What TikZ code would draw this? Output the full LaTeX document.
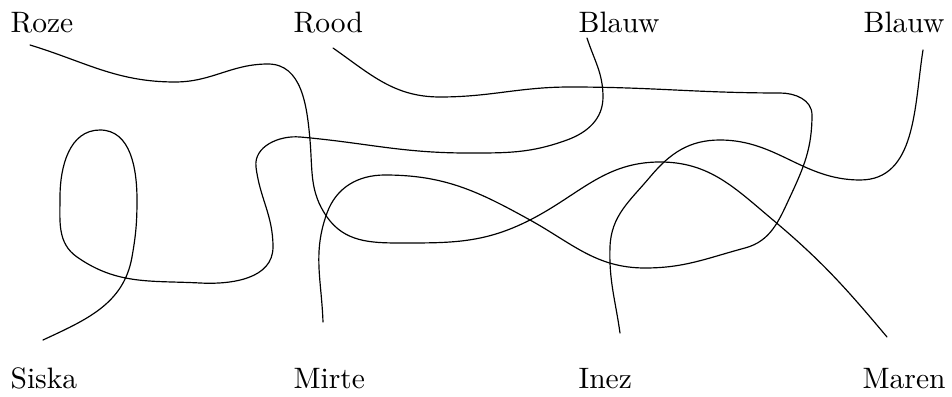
\documentclass[tikz,border=0pt]{standalone}
\tikzset{
  naam/.style={anchor=base west,inner sep=0pt},
  draad/.style={black,line cap=round}
}
\begin{document}
\begin{tikzpicture}[x=0.119mm,y=0.119mm]
\useasboundingbox (0,0) rectangle (952,397);

% namen boven en onder
\foreach \n/\t/\x in {roze/Roze/10,rood/Rood/293,blauwa/Blauw/578,blauwb/Blauw/863}
  \node[naam] (\n) at (\x,364) {\t};
\foreach \n/\t/\x in {siska/Siska/10,mirte/Mirte/293,inez/Inez/578,maren/Maren/862}
  \node[naam] (\n) at (\x,8) {\t};

% uiteinden van de draden
\coordinate (roze-uit) at (30,352);
\coordinate (rood-uit) at (333,349);
\coordinate (blauwa-uit) at (587,359);
\coordinate (blauwb-uit) at (923,347);
\coordinate (siska-in) at (43,57);
\coordinate (mirte-in) at (323,75);
\coordinate (inez-in) at (620,64);
\coordinate (maren-in) at (887,60);

% Roze - Maren
\draw[draad] (roze-uit) to[out=-17,in=180] (175,315) to[out=0,in=180] (268,333)
  to[out=0,in=95] (310,257) to[out=-85,in=125] (327,180) to[out=-55,in=180] (400,154)
  to[out=0,in=207] (530,177) to[out=27,in=180] (660,235) to[out=0,in=140] (773,177)
  to[out=-40,in=130] (maren-in);

% Rood - Mirte
\draw[draad] (rood-uit) to[out=-35,in=180] (440,300) to[out=0,in=180] (570,310)
  to[out=0,in=180] (780,304) to[out=0,in=90] (812,282) to[out=-90,in=65] (790,200)
  to[out=-115,in=15] (745,149) to[out=195,in=0] (645,129) to[out=180,in=-29] (530,177)
  to[out=151,in=0] (385,222) to[out=180,in=70] (327,184) to[out=250,in=92] (mirte-in);

% Blauw - Siska
\draw[draad] (blauwa-uit) to[out=-72,in=90] (603,300) to[out=-90,in=20] (567,257)
  to[out=200,in=0] (467,244) to[out=180,in=-5] (300,260) to[out=175,in=97] (256,230)
  to[out=-83,in=90] (273,150) to[out=-90,in=-3] (200,114) to[out=177,in=-35] (77,140)
  to[out=145,in=-90] (60,200) to[out=90,in=180] (100,267) to[out=0,in=90] (137,197)
  to[out=-90,in=80] (132,140) to[out=-100,in=25] (siska-in);

% Blauw - Inez
\draw[draad] (blauwb-uit) to[out=261,in=0] (860,217) to[out=180,in=0] (720,257)
  to[out=180,in=50] (650,220) to[out=230,in=88] (610,150) to[out=268,in=98] (inez-in);
\end{tikzpicture}
\end{document}
